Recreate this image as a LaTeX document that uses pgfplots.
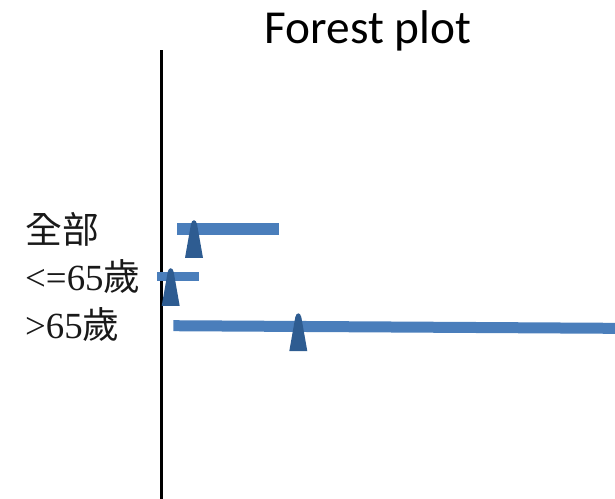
\documentclass[border=0pt]{standalone}
\usepackage{fontspec}
\usepackage{pgfplots}
\pgfplotsset{compat=1.18}
\setmainfont{Liberation Serif}
\newfontfamily\latinserif{Liberation Serif}
\newfontfamily\cjk{Noto Sans CJK TC}
\newfontfamily\titlefont{Carlito}

\definecolor{ciblue}{HTML}{4A7EBB}
\definecolor{estblue}{HTML}{2E5C91}

% tall narrow wedge used for the point estimates
\pgfdeclareplotmark{estimate}{%
  \pgfpathmoveto{\pgfpoint{-9bp}{-29bp}}%
  \pgfpathlineto{\pgfpoint{-3bp}{5bp}}%
  \pgfpathcurveto{\pgfpoint{-2bp}{10bp}}{\pgfpoint{2bp}{10bp}}{\pgfpoint{3bp}{5bp}}%
  \pgfpathlineto{\pgfpoint{9bp}{-29bp}}%
  \pgfpathclose
  \pgfusepathqfill
}

\newcommand{\grouplabel}[2]{\mbox{\latinserif #1{\cjk #2}}}

\begin{document}
\begin{tikzpicture}
\path[use as bounding box] (0,0) rectangle (615bp,499bp);
\begin{axis}[
  at={(161bp,0bp)}, anchor=south west,
  scale only axis, width=454bp, height=449bp,
  xmin=0, xmax=4.54, ymin=-2.625, ymax=6.729,
  clip=false,
  axis x line=none,
  axis y line=left,
  y axis line style={-, line width=3bp, black},
  ytick={3,2,1},
  yticklabels={{\grouplabel{}{全部}}, {\grouplabel{<=65}{歲}}, {\grouplabel{>65}{歲}}},
  major tick length=0pt,
  yticklabel style={anchor=west, xshift=-136bp, inner sep=0pt,
    font=\fontsize{37}{37}\selectfont, text=black!90},
  title={Forest plot},
  title style={font=\titlefont\fontsize{47.5}{47.5}\selectfont,
    at={(rel axis cs:0.456,1)}, anchor=base, yshift=1bp, inner sep=0pt},
]
% confidence intervals
\addplot[ciblue, line width=12bp, line cap=butt] coordinates {(0.163,3) (1.183,3)};
\addplot[ciblue, line width=9bp, line cap=butt] coordinates {(-0.037,2) (0.383,2)};
\addplot[ciblue, line width=11bp, line cap=butt] coordinates {(0.123,0.985) (5.0,0.925)};
% point estimates
\addplot[only marks, mark=estimate, mark options={fill=estblue, draw=none}]
  coordinates {(0.33,3) (0.097,2) (1.373,1.06)};
\end{axis}
\end{tikzpicture}
\end{document}
